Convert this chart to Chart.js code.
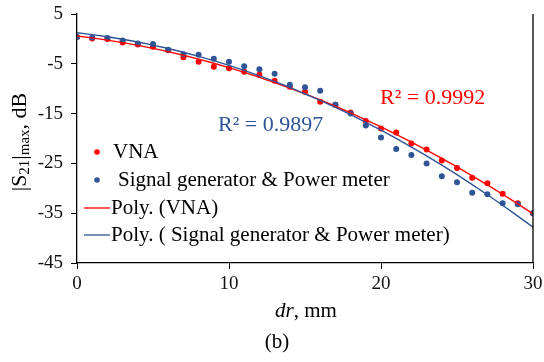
<!DOCTYPE html>
<html>
<head>
<meta charset="utf-8">
<script src="https://cdn.jsdelivr.net/npm/chart.js@4.4.1/dist/chart.umd.min.js"></script>
<style>
html,body{margin:0;padding:0;background:#fff;}
#wrap{width:544px;height:362px;position:relative;}
</style>
</head>
<body>
<div id="wrap"><canvas id="c" width="544" height="362"></canvas></div>
<script>
// ---- data ----
const dr = [0,1,2,3,4,5,6,7,8,9,10,11,12,13,14,15,16,17,18,19,20,21,22,23,24,25,26,27,28,29,30];
const vna = [0.4,0.1,0,-0.7,-1.1,-1.6,-2.3,-3.7,-4.6,-5.6,-5.9,-6.6,-7.2,-8.4,-9.6,-10.6,-12.6,-13.2,-14.8,-16.5,-18.0,-18.8,-21.0,-22.2,-24.4,-25.9,-27.9,-29.0,-31.1,-33.0,-35.0];
const sgpm = [0.4,0.3,0.2,-0.3,-0.9,-1.0,-2.2,-3.1,-3.2,-4.0,-4.6,-5.5,-6.1,-7.0,-9.2,-9.7,-10.4,-13.2,-15.0,-17.4,-19.8,-22.1,-23.3,-25.0,-27.6,-28.8,-30.9,-31.2,-33.0,-33.2,-35.0];
const xTicks = [0,10,20,30];
const yTicks = [-45,-35,-25,-15,-5,5];
const labels = ["VNA","Signal generator & Power meter","Poly. (VNA)","Poly. ( Signal generator & Power meter)"];
const r2Text = ["R\u00B2 = 0.9992","R\u00B2 = 0.9897"];

const RED = '#ff0000';
const BLUE = '#2f5597';
const FONT = '"Liberation Serif","Times New Roman",serif';

// quadratic least-squares trendline (Excel "Poly." order 2) computed from the data
function polyFit2(xs, ys){
  let s0=0,s1=0,s2=0,s3=0,s4=0,t0=0,t1=0,t2=0;
  for(let i=0;i<xs.length;i++){
    const x=xs[i], y=ys[i];
    s0+=1; s1+=x; s2+=x*x; s3+=x*x*x; s4+=x*x*x*x;
    t0+=y; t1+=x*y; t2+=x*x*y;
  }
  const M=[[s0,s1,s2,t0],[s1,s2,s3,t1],[s2,s3,s4,t2]];
  for(let i=0;i<3;i++){
    let p=i; for(let k=i+1;k<3;k++) if(Math.abs(M[k][i])>Math.abs(M[p][i])) p=k;
    [M[i],M[p]]=[M[p],M[i]];
    for(let k=0;k<3;k++){ if(k===i) continue; const f=M[k][i]/M[i][i]; for(let j=i;j<4;j++) M[k][j]-=f*M[i][j]; }
  }
  const c=[M[0][3]/M[0][0],M[1][3]/M[1][1],M[2][3]/M[2][2]];
  return xs.map(x=>({x:x,y:c[0]+c[1]*x+c[2]*x*x}));
}

const pts = (ys)=>dr.map((x,i)=>({x:x,y:ys[i]}));

const overlay = {
  id:'overlay',
  afterDraw(chart){
    const ctx = chart.ctx;
    const ca = chart.chartArea;
    ctx.save();
    // right frame line
    ctx.strokeStyle='#000'; ctx.lineWidth=1.3;
    ctx.beginPath(); ctx.moveTo(ca.right, ca.top); ctx.lineTo(ca.right, ca.bottom); ctx.stroke();

    // legend
    ctx.textBaseline='middle'; ctx.textAlign='left';
    ctx.font = '21px '+FONT; ctx.fillStyle='#000';
    const lx = 84;
    const rows = [152,180,208,235];
    ctx.fillStyle=RED; ctx.beginPath(); ctx.arc(lx+13, rows[0], 2.8, 0, Math.PI*2); ctx.fill();
    ctx.fillStyle=BLUE; ctx.beginPath(); ctx.arc(lx+13, rows[1], 2.8, 0, Math.PI*2); ctx.fill();
    ctx.lineWidth=1.3;
    ctx.strokeStyle=RED; ctx.beginPath(); ctx.moveTo(lx, rows[2]); ctx.lineTo(lx+26, rows[2]); ctx.stroke();
    ctx.strokeStyle=BLUE; ctx.beginPath(); ctx.moveTo(lx, rows[3]); ctx.lineTo(lx+26, rows[3]); ctx.stroke();
    ctx.fillStyle='#000';
    ctx.fillText(labels[0], 113, rows[0]);
    ctx.fillText(labels[1], 118, rows[1]);
    ctx.fillText(labels[2], 111, rows[2]);
    ctx.fillText(labels[3], 111, rows[3]);

    // R^2 labels
    ctx.font = '22px '+FONT;
    ctx.fillStyle=RED; ctx.fillText(r2Text[0], 380, 98);
    ctx.fillStyle=BLUE; ctx.fillText(r2Text[1], 218, 125);

    // x-axis title: "dr, mm"
    ctx.fillStyle='#000';
    const it = 'italic 21px '+FONT, nf = '21px '+FONT;
    ctx.font=it; const w1=ctx.measureText('dr').width;
    ctx.font=nf; const w2=ctx.measureText(', mm').width;
    let sx = 306-(w1+w2)/2;
    ctx.font=it; ctx.fillText('dr', sx, 311);
    ctx.font=nf; ctx.fillText(', mm', sx+w1, 311);
    // (b)
    ctx.textAlign='center';
    ctx.fillText('(b)', 277, 342);

    // y-axis title: |S21|max, dB
    ctx.translate(20, 142); ctx.rotate(-Math.PI/2);
    const parts = [['|S',22,0],['21',15,5],['|',22,0],['max',15,5],[', dB',22,0]];
    let tot=0; parts.forEach(p=>{ctx.font=p[1]+'px '+FONT; tot+=ctx.measureText(p[0]).width;});
    let px=-tot/2; ctx.textAlign='left';
    parts.forEach(p=>{ctx.font=p[1]+'px '+FONT; ctx.fillText(p[0], px, p[2]); px+=ctx.measureText(p[0]).width;});
    ctx.restore();
  }
};

new Chart(document.getElementById('c'), {
  type:'scatter',
  data:{
    datasets:[
      {label:labels[2], type:'line', data:polyFit2(dr, vna), borderColor:RED, borderWidth:1.4, pointRadius:0, fill:false, order:1},
      {label:labels[3], type:'line', data:polyFit2(dr, sgpm), borderColor:BLUE, borderWidth:1.4, pointRadius:0, fill:false, order:0},
      {label:labels[0], data:pts(vna), backgroundColor:RED, borderColor:RED, pointRadius:3, borderWidth:0, order:3},
      {label:labels[1], data:pts(sgpm), backgroundColor:BLUE, borderColor:BLUE, pointRadius:3, borderWidth:0, order:2}
    ]
  },
  options:{
    responsive:false, animation:false,
    layout:{padding:{top:14,right:11,left:0,bottom:0}},
    plugins:{legend:{display:false}, tooltip:{enabled:false}},
    scales:{
      x:{
        type:'linear', min:0, max:30,
        afterBuildTicks(s){ s.ticks = xTicks.map(v=>({value:v})); },
        afterFit(s){ s.height = 99; s.paddingLeft = 0; s.paddingRight = 0; },
        grid:{display:true, drawOnChartArea:false, drawTicks:true, tickLength:6, color:'#000', tickColor:'#000'},
        border:{display:true, color:'#000', width:1.3},
        ticks:{color:'#111', font:{family:FONT, size:19}, padding:4, maxRotation:0}
      },
      y:{
        type:'linear', min:-45, max:5,
        afterBuildTicks(s){ s.ticks = yTicks.map(v=>({value:v})); },
        afterFit(s){ s.width = 77; s.paddingTop = 0; s.paddingBottom = 0; },
        grid:{display:true, drawOnChartArea:false, drawTicks:true, tickLength:6, color:'#000', tickColor:'#000'},
        border:{display:true, color:'#000', width:1.3},
        ticks:{color:'#111', font:{family:FONT, size:19}, padding:8}
      }
    }
  },
  plugins:[overlay]
});
</script>
</body>
</html>
